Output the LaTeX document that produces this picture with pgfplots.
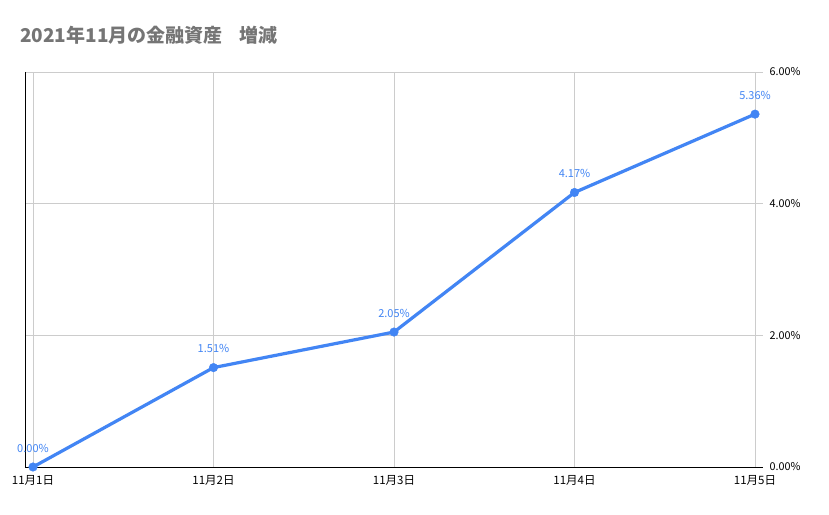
\documentclass[border=0pt]{standalone}
\usepackage{fontspec}
\setmainfont{Noto Sans CJK JP}
\usepackage{pgfplots}
\pgfplotsset{compat=1.18}
\definecolor{lineblue}{HTML}{4285F4}
\definecolor{titlegray}{HTML}{757575}
\definecolor{gridgray}{HTML}{CCCCCC}

\begin{document}
\begin{tikzpicture}[x=1pt,y=1pt]
\path[use as bounding box, fill=white] (0,0) rectangle (829,514);
\node[anchor=base west, font=\fontsize{19}{22}\selectfont\bfseries, text=titlegray, inner sep=0]
  at (20,471) {2021年11月の金融資産\hspace{0.9em}増減};
\begin{axis}[
  at={(25pt,47pt)}, anchor=south west, scale only axis,
  width=738pt, height=395pt,
  xmin=-0.0443, xmax=4.0443, ymin=0, ymax=6,
  xtick={0,1,2,3,4},
  xticklabels={11月1日,11月2日,11月3日,11月4日,11月5日},
  ytick={0,2,4,6},
  yticklabel pos=right,
  yticklabel={\pgfmathprintnumber[fixed,fixed zerofill,precision=2]{\tick}\%},
  /pgf/number format/assume math mode=true,
  x tick label style={font=\fontsize{11.5}{13}\selectfont, yshift=-5pt},
  y tick label style={font=\fontsize{10.8}{13}\selectfont, xshift=3pt},
  major tick length=0pt,
  grid=major,
  major grid style={gridgray, line width=0.8pt},
  axis line style={draw=none},
  clip=false,
  nodes near coords={\pgfmathprintnumber[fixed,fixed zerofill,precision=2]{\pgfplotspointmeta}\%},
  every node near coord/.append style={font=\fontsize{11}{13}\selectfont, text=lineblue, yshift=11pt},
]
\draw[black, line width=1pt] (rel axis cs:0,1) -- (rel axis cs:0,0) -- (rel axis cs:1,0);
\addplot[lineblue, line width=3.2pt, mark=*, mark size=4.3pt,
  mark options={solid, fill=lineblue, draw=lineblue, line width=0.4pt}]
  coordinates {(0,0.00) (1,1.51) (2,2.05) (3,4.17) (4,5.36)};
\end{axis}
\end{tikzpicture}
\end{document}
